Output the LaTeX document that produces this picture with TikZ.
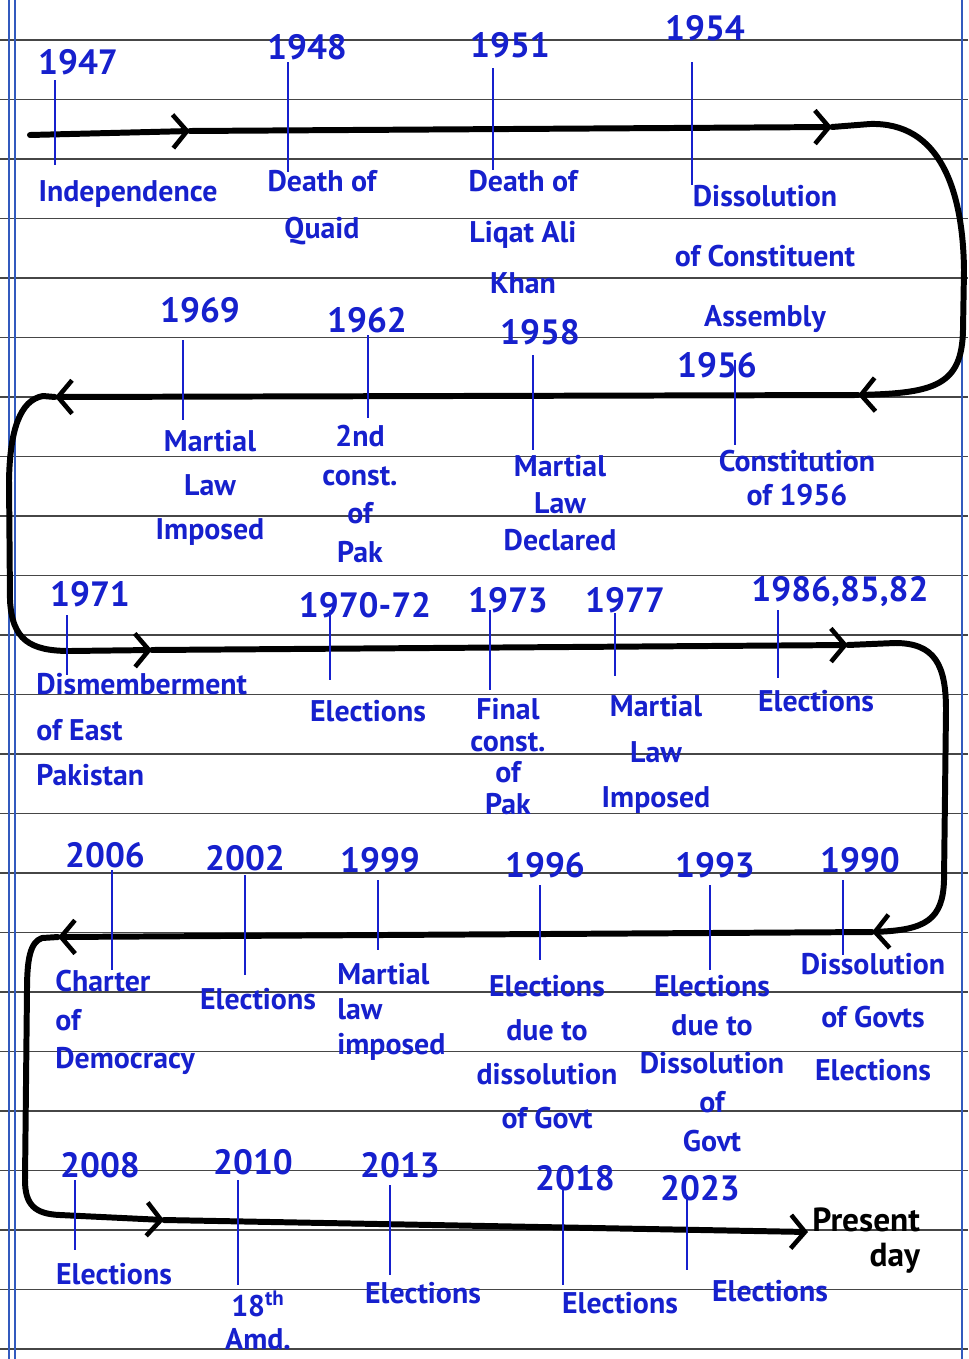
\documentclass[tikz,border=0pt]{standalone}
\usepackage{fontspec}
\setmainfont{PT Sans}
\usetikzlibrary{arrows.meta}
\definecolor{ink}{RGB}{22,32,205}
\definecolor{rulegray}{RGB}{70,70,70}
\definecolor{marginblue}{RGB}{50,90,190}
\def\lblfont#1{\fontsize{17}{#1}\selectfont\bfseries}
\def\yrfont{\fontsize{20}{22}\selectfont\bfseries}
\tikzset{
  paper/.style={rulegray, line width=0.9pt},
  tl/.style={line width=3.4pt, black, line cap=round, line join=round,
    -{Straight Barb[length=8pt,width=19pt,line width=2.6pt]}},
  tick/.style={ink, line width=1.6pt},
  yr/.style={ink, inner sep=0pt, font=\yrfont},
  evc/.style={ink, inner sep=0pt, align=center, anchor=north},
  evl/.style={ink, inner sep=0pt, align=left, anchor=north west},
}

\begin{document}
\begin{tikzpicture}[x=0.02cm, y=-0.02cm]
  \useasboundingbox (0,0) rectangle (968,1359);
  % ruled paper
  \foreach \k [evaluate=\k as \yy using 40+59.5*\k] in {0,...,22}{
    \draw[paper] (0,\yy) -- (968,\yy);
  }
  \draw[marginblue, line width=0.8pt] (9,0) -- (9,1359);
  \draw[marginblue, line width=0.8pt] (15,0) -- (15,1359);
  \draw[marginblue, line width=0.8pt] (962,0) -- (962,1359);

  % the snake
  \coordinate (a0) at (30,135);
  \coordinate (a1) at (190,131);
  \coordinate (a2) at (832,127);
  \coordinate (b0) at (858,395);
  \coordinate (b1) at (55,397);
  \coordinate (c0) at (152,650);
  \coordinate (c1) at (848,645);
  \coordinate (d0) at (872,932);
  \coordinate (d1) at (58,937);
  \coordinate (e0) at (164,1220);
  \coordinate (e1) at (808,1232);
  \draw[tl] (a0) -- (a1);
  \draw[tl] (a1) -- (a2);
  \draw[tl] (a2) -- (870,124) .. controls (940,122) and (963,190) .. (964,270)
    -- (963,330) .. controls (962,385) and (935,393) .. (b0);
  \draw[tl] (b0) -- (b1);
  \draw[tl] (b1) -- (43,396) .. controls (20,400) and (10,430) .. (9,480)
    -- (10,600) .. controls (12,640) and (30,651) .. (70,651) -- (c0);
  \draw[tl] (c0) -- (c1);
  \draw[tl] (c1) -- (895,643) .. controls (935,643) and (946,665) .. (946,710)
    -- (944,880) .. controls (943,920) and (925,930) .. (d0);
  \draw[tl] (d0) -- (d1);
  \draw[tl] (d1) -- (42,938) .. controls (30,942) and (27,960) .. (27,990)
    -- (25,1180) .. controls (25,1205) and (35,1214) .. (60,1215) -- (e0);
  \draw[tl] (e0) -- (e1);
  \node[black, inner sep=0pt, align=right, anchor=north west,
    font=\fontsize{19}{20}\selectfont\bfseries] (pd) at (812,1207) {Present\\day};

  % ticks, years, events
  \foreach \x/\ya/\yb/\yx/\yy/\yr/\st/\lx/\ly/\bs/\txt [count=\i] in {
    55/80/165/78/62/1947/evc/128/180/25/{Independence},
    288/62/172/307/47/1948/evc/322/170/27/{Death of\\Quaid},
    493/68/170/510/45/1951/evc/523/170/29/{Death of\\Liqat Ali\\Khan},
    692/62/185/705/28/1954/evc/765/185/34/{Dissolution\\of Constituent\\Assembly},
    183/340/420/200/310/1969/evc/210/430/25/{Martial\\Law\\Imposed},
    368/335/418/367/320/1962/evc/360/425/22/{2nd\\const.\\of\\Pak},
    533/355/450/540/332/1958/evc/560/455/21/{Martial\\Law\\Declared},
    735/360/445/717/365/1956/evc/797/450/19/{Constitution\\of 1956},
    67/615/675/90/594/1971/evl/36/673/26/{Dismemberment\\of East\\Pakistan},
    330/610/680/365/605/1970-72/evc/368/700/25/{Elections},
    490/610/690/508/600/1973/evc/508/698/18/{Final\\const.\\of\\Pak},
    615/613/676/625/600/1977/evc/656/695/26/{Martial\\Law\\Imposed},
    778/610/678/840/592/{1986,85,82}/evc/816/690/25/{Elections},
    112/870/970/105/855/2006/evl/55/970/22/{Charter\\of\\Democracy},
    245/875/975/245/858/2002/evc/258/988/25/{Elections},
    378/880/950/380/860/1999/evl/337/963/20/{Martial\\law\\imposed},
    540/885/960/545/865/1996/evc/547/975/25/{Elections\\due to\\dissolution\\of Govt},
    710/885/970/715/865/1993/evc/712/975/22/{Elections\\due to\\Dissolution\\of\\Govt},
    843/880/955/860/860/1990/evc/873/953/30/{Dissolution\\of Govts\\Elections},
    75/1180/1250/100/1165/2008/evc/114/1263/25/{Elections},
    238/1180/1285/253/1162/2010/evc/258/1290/19/{18\textsuperscript{th}\\Amd.},
    390/1185/1275/400/1165/2013/evc/423/1282/25/{Elections},
    563/1190/1285/575/1178/2018/evc/620/1292/25/{Elections},
    687/1195/1270/700/1188/2023/evc/770/1280/25/{Elections}}{
    \draw[tick] (\x,\ya) coordinate (t\i a) -- (\x,\yb) coordinate (t\i b);
    \node[yr] (y\i) at (\yx,\yy) {\yr};
    \node[\st, font=\lblfont{\bs}] (ev\i) at (\lx,\ly) {\txt};
  }
\end{tikzpicture}
\end{document}
